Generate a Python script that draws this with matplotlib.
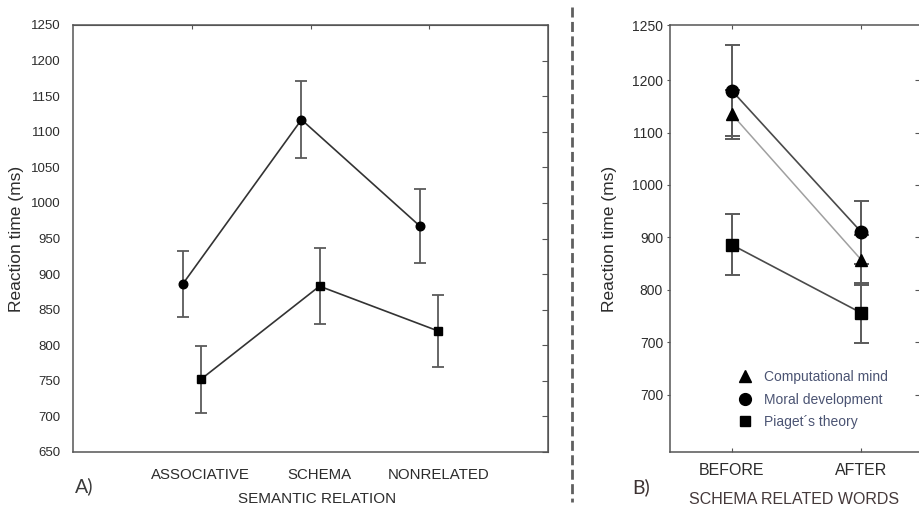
from __future__ import annotations

import matplotlib

matplotlib.use("Agg")
import matplotlib.pyplot as plt
import numpy as np
from matplotlib.lines import Line2D


# Panel A: reaction time by semantic relation (two groups)
SEMANTIC_CATEGORIES = ["ASSOCIATIVE", "SCHEMA", "NONRELATED"]
CIRCLE_MEANS = [886, 1117, 967]
CIRCLE_ERR = [47, 54, 52]
SQUARE_MEANS = [752, 883, 820]
SQUARE_ERR = [47, 53, 51]
A_YTICKS = list(range(650, 1251, 50))

# Panel B: schema related words, before / after
PHASES = ["BEFORE", "AFTER"]
COMPUTATIONAL_MEANS = [1135, 857]
COMPUTATIONAL_ERR = [47, 47]
MORAL_MEANS = [1180, 910]
MORAL_ERR = [86, 60]
PIAGET_MEANS = [886, 756]
PIAGET_ERR = [58, 57]
B_YTICK_POS = [1305, 1200, 1100, 1000, 900, 800, 700, 600]
B_YTICK_LABELS = ["1250", "1200", "1100", "1000", "900", "800", "700", "700"]

W, H = 919, 509
TEXT = "#2c2c2c"
SPINE = "#555555"

plt.rcParams["font.family"] = ["Liberation Sans", "DejaVu Sans"]


def _px_axes(fig, left, top, right, bottom):
    return fig.add_axes([left / W, 1 - bottom / H, (right - left) / W, (bottom - top) / H])


def _style_spines(ax):
    for sp in ax.spines.values():
        sp.set_color(SPINE)
        sp.set_linewidth(1.1)


def draw_panel_a(fig):
    ax = _px_axes(fig, 73, 25, 548, 452)
    _style_spines(ax)
    x = np.arange(1, len(SEMANTIC_CATEGORIES) + 1)
    off = 0.076
    common = dict(ecolor="#5a5a5a", elinewidth=1.3, capsize=4.3, capthick=1.3,
                  color="#333333", lw=1.2, mfc="black", mec="black")
    ax.errorbar(x - off, CIRCLE_MEANS, yerr=CIRCLE_ERR, fmt="o-", markersize=6.2, **common)
    ax.errorbar(x + off, SQUARE_MEANS, yerr=SQUARE_ERR, fmt="s-", markersize=6.0, **common)

    ax.set_xlim(0, 4)
    ax.set_ylim(650, 1250)
    ax.set_yticks(A_YTICKS)
    ax.tick_params(axis="y", left=False, labelsize=9.5, pad=5.5, colors=TEXT)
    ax.set_xticks(x + off)
    ax.set_xticklabels(SEMANTIC_CATEGORIES)
    ax.tick_params(axis="x", bottom=False, labelsize=10.8, pad=8, colors=TEXT)

    top = ax.secondary_xaxis("top")
    top.set_xticks(x)
    top.tick_params(direction="in", length=3, labeltop=False, color=SPINE)
    top.spines["top"].set_color(SPINE)
    right = ax.secondary_yaxis("right")
    right.set_yticks(A_YTICKS)
    right.tick_params(direction="in", length=4, labelright=False, color=SPINE)
    right.spines["right"].set_color(SPINE)

    ax.set_ylabel("Reaction time (ms)", fontsize=12.5, color=TEXT)
    ax.yaxis.set_label_coords(-0.103, 0.5)
    ax.set_xlabel("SEMANTIC RELATION", fontsize=11, color=TEXT)
    ax.xaxis.set_label_coords(0.514, -0.094)


def draw_panel_b(fig):
    ax = _px_axes(fig, 670, 25, 921, 452)
    _style_spines(ax)
    x = np.arange(len(PHASES))
    bar = dict(ecolor="#5a5a5a", elinewidth=1.4, capsize=5.4, capthick=1.4, mfc="black", mec="black")
    ax.errorbar(x, PIAGET_MEANS, yerr=PIAGET_ERR, fmt="s-", color="#4a4a4a", lw=1.2, markersize=8.5, **bar)
    ax.errorbar(x, COMPUTATIONAL_MEANS, yerr=COMPUTATIONAL_ERR, fmt="^-", color="#a0a0a0", lw=1.1,
                markersize=8.5, **bar)
    ax.errorbar(x, MORAL_MEANS, yerr=MORAL_ERR, fmt="o-", color="#4a4a4a", lw=1.2, markersize=9, **bar)

    ax.set_xlim(-0.477, 1.46)
    ax.set_ylim(491, 1305)
    ax.set_yticks(B_YTICK_POS)
    ax.set_yticklabels(B_YTICK_LABELS)
    ax.tick_params(axis="y", direction="out", length=2.5, labelsize=10, pad=2.5, colors=TEXT, color=SPINE)
    ax.set_xticks(x)
    ax.set_xticklabels(PHASES)
    ax.tick_params(axis="x", direction="in", length=3, top=True, labelsize=11.5, pad=8, colors=TEXT,
                   color=SPINE)

    right = ax.secondary_yaxis("right")
    right.set_yticks(B_YTICK_POS[1:])
    right.tick_params(direction="in", length=4, labelright=False, color=SPINE)

    ax.set_ylabel("Reaction time (ms)", fontsize=12.5, color=TEXT)
    ax.yaxis.set_label_coords(-0.211, 0.5)
    ax.set_xlabel("SCHEMA RELATED WORDS", fontsize=11.5, color="#45393a")
    ax.xaxis.set_label_coords(0.494, -0.094)

    handles = [
        Line2D([], [], ls="none", marker="^", color="black", markersize=8),
        Line2D([], [], ls="none", marker="o", color="black", markersize=8.5),
        Line2D([], [], ls="none", marker="s", color="black", markersize=7.5),
    ]
    ax.legend(handles, ["Computational mind", "Moral development", "Piaget´s theory"],
              loc="upper left", bbox_to_anchor=(0.271, 0.192), frameon=False, borderpad=0,
              borderaxespad=0, fontsize=10, labelcolor="#4b5473", handlelength=1.0,
              handletextpad=0.9, labelspacing=0.62)


def main() -> None:
    fig = plt.figure(figsize=(W / 100, H / 100), dpi=100)
    fig.patch.set_facecolor("white")
    draw_panel_a(fig)
    draw_panel_b(fig)

    # dashed separator between the two panels
    fig.add_artist(Line2D([572 / W, 572 / W], [1 - 7 / H, 1 - 502 / H], transform=fig.transFigure,
                          color="#5f5f5f", lw=2.0, linestyle=(0, (3.6, 1.6))))

    fig.text(75 / W, 1 - 486 / H, "A)", fontsize=14, family=["Lato", "DejaVu Sans"], color="#3a3a3a",
             va="center", ha="left")
    fig.text(632 / W, 1 - 487 / H, "B)", fontsize=14, family=["Lato", "DejaVu Sans"], color="#3d3232",
             va="center", ha="left")

    fig.savefig("out.png", dpi=100)
    plt.close(fig)


if __name__ == "__main__":
    main()
